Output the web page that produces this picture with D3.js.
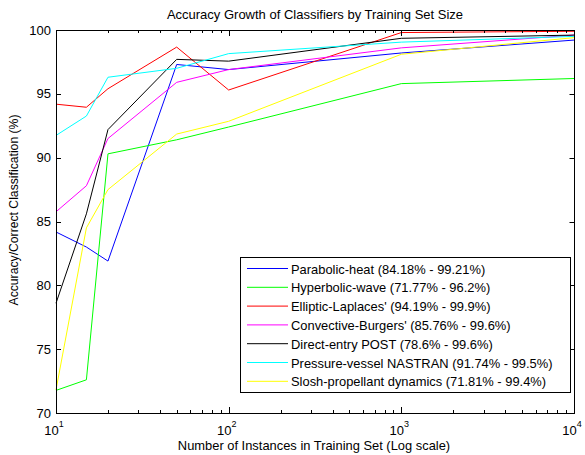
<!DOCTYPE html>
<html>
<head>
    <meta charset="utf-8">
    <style>
        body { margin: 0; background: #fff; }
        svg text { font-family: "Liberation Sans", Arial, sans-serif; fill: #000; }
    </style>
</head>
<body>
<svg width="585" height="455"></svg>
<script src="https://cdnjs.cloudflare.com/ajax/libs/d3/7.8.5/d3.min.js"></script>
<script>
    // training set sizes
    let sizes = [10, 15, 20, 50, 100, 1000, 10000]

    let names = [
        "Parabolic-heat (84.18% - 99.21%)",
        "Hyperbolic-wave (71.77% - 96.2%)",
        "Elliptic-Laplaces' (94.19% - 99.9%)",
        "Convective-Burgers' (85.76% - 99.6%)",
        "Direct-entry POST (78.6% - 99.6%)",
        "Pressure-vessel NASTRAN (91.74% - 99.5%)",
        "Slosh-propellant dynamics (71.81% - 99.4%)"
    ]

    let parabolic  = [84.18, 83.0, 81.9, 97.3, 96.9, 98.2, 99.21]
    let hyperbolic = [71.77, 72.6, 90.3, 91.4, 92.4, 95.8, 96.2]
    let elliptic   = [94.19, 93.95, 95.4, 98.66, 95.3, 99.8, 99.9]
    let convective = [85.76, 87.8, 91.5, 95.9, 96.9, 98.6, 99.6]
    let direct     = [78.6, 85.6, 92.2, 97.7, 97.56, 99.35, 99.6]
    let pressure   = [91.74, 93.26, 96.3, 97.0, 98.15, 99.05, 99.5]
    let slosh      = [71.81, 84.5, 87.5, 91.85, 92.85, 98.1, 99.4]

    let series = [parabolic, hyperbolic, elliptic, convective, direct, pressure, slosh]
    let colors = ["#0000ff", "#00ff00", "#ff0000", "#ff00ff", "#000000", "#00ffff", "#ffff00"]

    let yTicks = [70, 75, 80, 85, 90, 95, 100]
    let xTicks = [10, 100, 1000, 10000]

    let pLeft = 56, pRight = 574, pTop = 30, pBottom = 413

    let svg = d3.select("svg")

    let x = d3.scaleLog().domain([10, 10000]).range([pLeft, pRight])
    let y = d3.scaleLinear().domain([70, 100]).range([pBottom, pTop])

    // lines
    let line = d3.line()
        .x((d, i) => x(sizes[i]))
        .y(d => y(d))

    svg.append("g")
        .selectAll("path")
        .data(series)
        .join("path")
        .attr("d", d => line(d))
        .style("fill", "none")
        .style("stroke", (d, i) => colors[i])
        .style("stroke-width", 1)

    // axes box + inward ticks
    let axes = svg.append("g")

    axes.append("rect")
        .attr("x", pLeft + 0.5).attr("y", pTop + 0.5)
        .attr("width", pRight - pLeft).attr("height", pBottom - pTop)
        .style("fill", "none").style("stroke", "#000").style("stroke-width", 1)

    let minor = []
    for (let dec = 10; dec < 10000; dec *= 10) {
        for (let k = 2; k <= 9; k++) minor.push(dec * k)
    }

    axes.selectAll(".minor")
        .data(minor)
        .join("path")
        .attr("d", d => {
            let px = Math.round(x(d)) + 0.5
            return "M" + px + "," + pBottom + "v-3M" + px + "," + pTop + "v3"
        })
        .style("stroke", "#000")

    axes.selectAll(".major")
        .data(xTicks)
        .join("path")
        .attr("d", d => {
            let px = Math.round(x(d)) + 0.5
            return "M" + px + "," + pBottom + "v-6M" + px + "," + pTop + "v6"
        })
        .style("stroke", "#000")

    axes.selectAll(".ytick")
        .data(yTicks)
        .join("path")
        .attr("d", d => {
            let py = Math.round(y(d)) + 0.5
            return "M" + pLeft + "," + py + "h5M" + (pRight + 0.5) + "," + py + "h-5"
        })
        .style("stroke", "#000")

    // tick labels
    axes.selectAll(".ylab")
        .data(yTicks)
        .join("text")
        .attr("x", pLeft - 5)
        .attr("y", d => y(d) + 4.5)
        .attr("text-anchor", "end")
        .style("font-size", "13px")
        .text(d => d)

    let xl = axes.selectAll(".xlab")
        .data(xTicks)
        .join("text")
        .attr("x", d => x(d) - 2)
        .attr("y", pBottom + 22)
        .attr("text-anchor", "middle")
        .style("font-size", "13px")
    xl.append("tspan").text("10")
    xl.append("tspan")
        .attr("dy", -8)
        .style("font-size", "9px")
        .text(d => Math.round(Math.log10(d)))

    // titles
    svg.append("text")
        .attr("x", (pLeft + pRight) / 2)
        .attr("y", 19)
        .attr("text-anchor", "middle")
        .style("font-size", "13px")
        .text("Accuracy Growth of Classifiers by Training Set Size")

    svg.append("text")
        .attr("x", 314)
        .attr("y", 450)
        .attr("text-anchor", "middle")
        .style("font-size", "12.9px")
        .text("Number of Instances in Training Set (Log scale)")

    svg.append("text")
        .attr("transform", "translate(18,210) rotate(-90)")
        .attr("text-anchor", "middle")
        .style("font-size", "12.2px")
        .text("Accuracy/Correct Classification (%)")

    // legend
    let lg = svg.append("g").attr("transform", "translate(240,257)")
    lg.append("rect")
        .attr("x", 0.5).attr("y", 0.5)
        .attr("width", 330).attr("height", 135)
        .style("fill", "#fff").style("stroke", "#000")

    let rows = lg.selectAll(".row")
        .data(names)
        .join("g")
        .attr("transform", (d, i) => "translate(0," + (11.5 + i * 18.8) + ")")

    rows.append("line")
        .attr("x1", 7).attr("x2", 48)
        .attr("y1", 0).attr("y2", 0)
        .style("stroke", (d, i) => colors[i])

    rows.append("text")
        .attr("x", 51)
        .attr("y", 5)
        .style("font-size", "12.9px")
        .text(d => d)
</script>
</body>
</html>
